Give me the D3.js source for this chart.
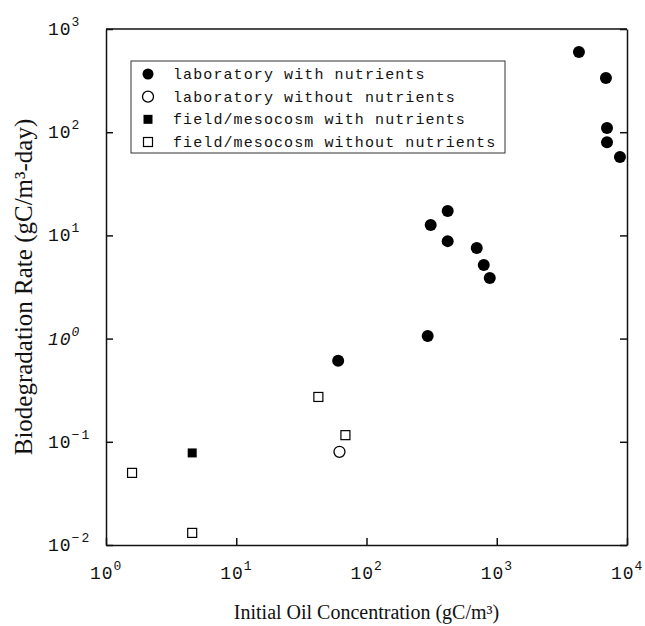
<!DOCTYPE html>
<html>
<head>
<meta charset="utf-8">
<script src="https://cdn.jsdelivr.net/npm/d3@7"></script>
<style>
  body { margin: 0; background: #fff; }
  .tickText { font-family: "Liberation Mono", monospace; font-size: 18px; letter-spacing: 1px; fill: #111; }
  .legendText { font-family: "Liberation Mono", monospace; font-size: 15px; letter-spacing: 1.1px; fill: #111; }
  .aText { font-family: "Liberation Serif", "Times New Roman", serif; fill: #111; }
</style>
</head>
<body>
<div id="scatter"></div>
<script>
// Data
var labWithX = [4275, 6890, 7020, 7020, 8830, 420, 311, 420, 702, 795, 884, 295, 60.6];
var labWithY = [598, 335, 110, 80, 57.5, 17.2, 12.6, 8.8, 7.55, 5.17, 3.87, 1.06, 0.61];
var labWithoutX = [62];
var labWithoutY = [0.080];
var fieldWithX = [4.59];
var fieldWithY = [0.078];
var fieldWithoutX = [1.585, 4.59, 42.7, 68.9];
var fieldWithoutY = [0.050, 0.0131, 0.272, 0.116];

var xTicks = [1, 10, 100, 1000, 10000];
var xExps = ["0", "1", "2", "3", "4"];
var yTicks = [0.01, 0.1, 1, 10, 100, 1000];
var yExps = ["\u22122", "\u22121", "0", "1", "2", "3"];

var legendLabels = [
    "laboratory with nutrients",
    "laboratory without nutrients",
    "field/mesocosm with nutrients",
    "field/mesocosm without nutrients"
];

// Chart params
var svgWidth = 645;
var svgHeight = 626;

var margin = {
    top: 29,
    right: 18,
    bottom: 81,
    left: 106
};

var width = svgWidth - margin.left - margin.right;
var height = svgHeight - margin.top - margin.bottom;

var svg = d3.select("#scatter")
    .append("svg")
    .attr("width", svgWidth)
    .attr("height", svgHeight);

var chartGroup = svg.append("g")
    .attr("transform", `translate(${margin.left}, ${margin.top})`);

// Scales
var xLogScale = d3.scaleLog()
    .domain([1, 10000])
    .range([0, width]);

var yLogScale = d3.scaleLog()
    .domain([0.01, 1000])
    .range([height, 0]);

// Axes, ticks pointing inward
var bottomAxis = d3.axisBottom(xLogScale).tickValues(xTicks).tickSizeInner(-7).tickSizeOuter(0).tickFormat("");
var leftAxis = d3.axisLeft(yLogScale).tickValues(yTicks).tickSizeInner(-7).tickSizeOuter(0).tickFormat("");
var rightAxis = d3.axisRight(yLogScale).tickValues(yTicks).tickSizeInner(-7).tickSizeOuter(0).tickFormat("");

chartGroup.append("g")
    .attr("transform", `translate(0, ${height})`)
    .call(bottomAxis);

chartGroup.append("g")
    .call(leftAxis);

chartGroup.append("g")
    .attr("transform", `translate(${width}, 0)`)
    .call(rightAxis);

chartGroup.append("line")
    .attr("x1", 0).attr("x2", width)
    .attr("y1", 0).attr("y2", 0);

chartGroup.selectAll(".domain, .tick line, line")
    .attr("stroke", "#111")
    .attr("stroke-width", 1.5);

// Tick labels with superscript exponents
var xLab = chartGroup.selectAll(".xLab")
    .data(xTicks)
    .enter()
    .append("text")
    .attr("class", "tickText")
    .attr("x", d => xLogScale(d) - 16)
    .attr("y", height + 34);
xLab.append("tspan").text("10");
xLab.append("tspan")
    .attr("dy", -9)
    .attr("dx", 0)
    .style("font-size", "13px")
    .style("letter-spacing", "1px")
    .text((d, i) => xExps[i]);

var yLab = chartGroup.selectAll(".yLab")
    .data(yTicks)
    .enter()
    .append("text")
    .attr("class", "tickText")
    .attr("x", 48 - margin.left)
    .attr("y", d => yLogScale(d) + 6)
    .style("font-style", d => d === 1 ? "italic" : "normal");
yLab.append("tspan").text("10");
yLab.append("tspan")
    .attr("dy", -9)
    .style("font-size", "13px")
    .style("letter-spacing", "2px")
    .text((d, i) => yExps[i]);

// Points
var filledCircles = d3.zip(labWithX, labWithY);
var openCircles = d3.zip(labWithoutX, labWithoutY);
var filledSquares = d3.zip(fieldWithX, fieldWithY);
var openSquares = d3.zip(fieldWithoutX, fieldWithoutY);

chartGroup.selectAll(".labWith")
    .data(filledCircles)
    .enter()
    .append("circle")
    .attr("cx", d => xLogScale(d[0]))
    .attr("cy", d => yLogScale(d[1]))
    .attr("r", 6)
    .attr("fill", "#000");

chartGroup.selectAll(".labWithout")
    .data(openCircles)
    .enter()
    .append("circle")
    .attr("cx", d => xLogScale(d[0]))
    .attr("cy", d => yLogScale(d[1]))
    .attr("r", 5.5)
    .attr("fill", "#fff")
    .attr("stroke", "#000")
    .attr("stroke-width", 1.3);

chartGroup.selectAll(".fieldWith")
    .data(filledSquares)
    .enter()
    .append("rect")
    .attr("x", d => xLogScale(d[0]) - 4.5)
    .attr("y", d => yLogScale(d[1]) - 4.5)
    .attr("width", 9)
    .attr("height", 9)
    .attr("fill", "#000");

chartGroup.selectAll(".fieldWithout")
    .data(openSquares)
    .enter()
    .append("rect")
    .attr("x", d => xLogScale(d[0]) - 4.5)
    .attr("y", d => yLogScale(d[1]) - 4.5)
    .attr("width", 9)
    .attr("height", 9)
    .attr("fill", "#fff")
    .attr("stroke", "#000")
    .attr("stroke-width", 1.2);

// Legend
var legend = svg.append("g")
    .attr("transform", "translate(131, 61)");

legend.append("rect")
    .attr("width", 374)
    .attr("height", 92)
    .attr("fill", "#fff")
    .attr("stroke", "#333")
    .attr("stroke-width", 1);

var rowY = d3.scalePoint().domain(d3.range(4)).range([13, 81]);

legend.append("circle").attr("cx", 17).attr("cy", rowY(0)).attr("r", 5.5).attr("fill", "#000");
legend.append("circle").attr("cx", 17).attr("cy", rowY(1)).attr("r", 5.5).attr("fill", "#fff").attr("stroke", "#000").attr("stroke-width", 1.3);
legend.append("rect").attr("x", 12.5).attr("y", rowY(2) - 4.5).attr("width", 9).attr("height", 9).attr("fill", "#000");
legend.append("rect").attr("x", 12.5).attr("y", rowY(3) - 4.5).attr("width", 9).attr("height", 9).attr("fill", "#fff").attr("stroke", "#000").attr("stroke-width", 1.2);

legend.selectAll(".legendText")
    .data(legendLabels)
    .enter()
    .append("text")
    .attr("class", "legendText")
    .attr("x", 42)
    .attr("y", (d, i) => rowY(i) + 5)
    .text(d => d);

// Axis titles
svg.append("text")
    .attr("class", "aText")
    .attr("x", margin.left + width / 2)
    .attr("y", 619)
    .attr("text-anchor", "middle")
    .style("font-size", "20px")
    .text("Initial Oil Concentration (gC/m\u00B3)");

svg.append("text")
    .attr("class", "aText")
    .attr("transform", "rotate(-90)")
    .attr("x", -(margin.top + height / 2))
    .attr("y", 32)
    .attr("text-anchor", "middle")
    .style("font-size", "25px")
    .text("Biodegradation Rate (gC/m\u00B3-day)");
</script>
</body>
</html>
